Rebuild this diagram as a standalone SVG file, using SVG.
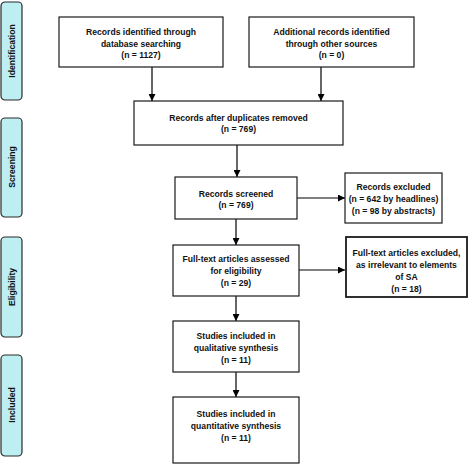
<svg xmlns="http://www.w3.org/2000/svg" width="473" height="465" viewBox="0 0 473 465">
<defs>
<marker id="ah" viewBox="0 0 8 8" refX="8" refY="4" markerWidth="7" markerHeight="7" markerUnits="userSpaceOnUse" orient="auto">
<path d="M0,0 L8,4 L0,8 z" fill="#000"/>
</marker>
<style>
.box{fill:#fff;stroke:#1a1a1a;stroke-width:1.2}
.thick{stroke-width:1.8}
.bar{fill:#bdeef2;stroke:#2a2a2a;stroke-width:1.2}
.t{font-family:"Liberation Sans",Arial,sans-serif;font-size:8.6px;font-weight:bold;fill:#111;text-anchor:middle}
.s{font-family:"Liberation Sans",Arial,sans-serif;font-size:8.6px;font-weight:bold;fill:#111;text-anchor:middle}
.c{stroke:#000;stroke-width:1.2;fill:none;marker-end:url(#ah)}
</style>
</defs>
<rect width="473" height="465" fill="#fff"/>
<g id="stage-identification"><rect class="bar" x="1" y="2" width="21" height="98" rx="4"/><text class="s" transform="translate(14.5,51) rotate(-90)">Identification</text></g>
<g id="stage-screening"><rect class="bar" x="1" y="118" width="21" height="99" rx="4"/><text class="s" transform="translate(14.5,167) rotate(-90)">Screening</text></g>
<g id="stage-eligibility"><rect class="bar" x="1" y="237" width="21" height="100" rx="4"/><text class="s" transform="translate(14.5,287) rotate(-90)">Eligibility</text></g>
<g id="stage-included"><rect class="bar" x="1" y="355" width="21" height="101" rx="4"/><text class="s" transform="translate(14.5,405) rotate(-90)">Included</text></g>

<g id="connectors">
<line class="c" x1="152" y1="67" x2="152" y2="101"/>
<line class="c" x1="321" y1="67" x2="321" y2="101"/>
<line class="c" x1="237" y1="145" x2="237" y2="177"/>
<line class="c" x1="236" y1="219" x2="236" y2="245"/>
<line class="c" x1="297" y1="198" x2="345" y2="198"/>
<line class="c" x1="299" y1="270" x2="345" y2="270"/>
<line class="c" x1="236" y1="296" x2="236" y2="321"/>
<line class="c" x1="236" y1="372" x2="236" y2="397"/>
</g>

<g id="db-records"><rect class="box" x="59" y="17" width="164" height="50"/>
<text class="t" x="141" y="35">Records identified through</text>
<text class="t" x="141" y="46.5">database searching</text>
<text class="t" x="141" y="58">(n =  1127)</text></g>

<g id="other-records"><rect class="box" x="249" y="17" width="165" height="50"/>
<text class="t" x="331.5" y="35">Additional records identified</text>
<text class="t" x="331.5" y="46.5">through other sources</text>
<text class="t" x="331.5" y="58">(n =  0)</text></g>

<g id="deduplicated"><rect class="box" x="134" y="101" width="209" height="44"/>
<text class="t" x="238.5" y="120.5">Records after duplicates removed</text>
<text class="t" x="238.5" y="132">(n = 769)</text></g>

<g id="screened"><rect class="box" x="175" y="177" width="122" height="42"/>
<text class="t" x="236" y="196.5">Records screened</text>
<text class="t" x="236" y="208">(n = 769)</text></g>

<g id="excluded-records"><rect class="box" x="345" y="173" width="97" height="50"/>
<text class="t" x="393.5" y="189.5">Records excluded</text>
<text class="t" x="393.5" y="201.5">(n = 642 by headlines)</text>
<text class="t" x="393.5" y="213.5">(n = 98 by abstracts)</text></g>

<g id="fulltext-assessed"><rect class="box" x="173" y="245" width="126" height="51"/>
<text class="t" x="236" y="261.5">Full-text articles assessed</text>
<text class="t" x="236" y="273.5">for eligibility</text>
<text class="t" x="236" y="285.5">(n = 29)</text></g>

<g id="fulltext-excluded"><rect class="box thick" x="346" y="237" width="121" height="60"/>
<text class="t" x="406.5" y="255.5">Full-text articles excluded,</text>
<text class="t" x="406.5" y="267.5">as irrelevant to elements</text>
<text class="t" x="406.5" y="279.5">of SA</text>
<text class="t" x="406.5" y="291.5">(n = 18)</text></g>

<g id="qualitative"><rect class="box" x="173" y="321" width="126" height="51"/>
<text class="t" x="236" y="338.5">Studies included in</text>
<text class="t" x="236" y="350.5">qualitative synthesis</text>
<text class="t" x="236" y="362.5">(n = 11)</text></g>

<g id="quantitative"><rect class="box" x="173" y="397" width="126" height="66"/>
<text class="t" x="236" y="416.5">Studies included in</text>
<text class="t" x="236" y="428.5">quantitative synthesis</text>
<text class="t" x="236" y="440.5">(n = 11)</text></g>
</svg>
